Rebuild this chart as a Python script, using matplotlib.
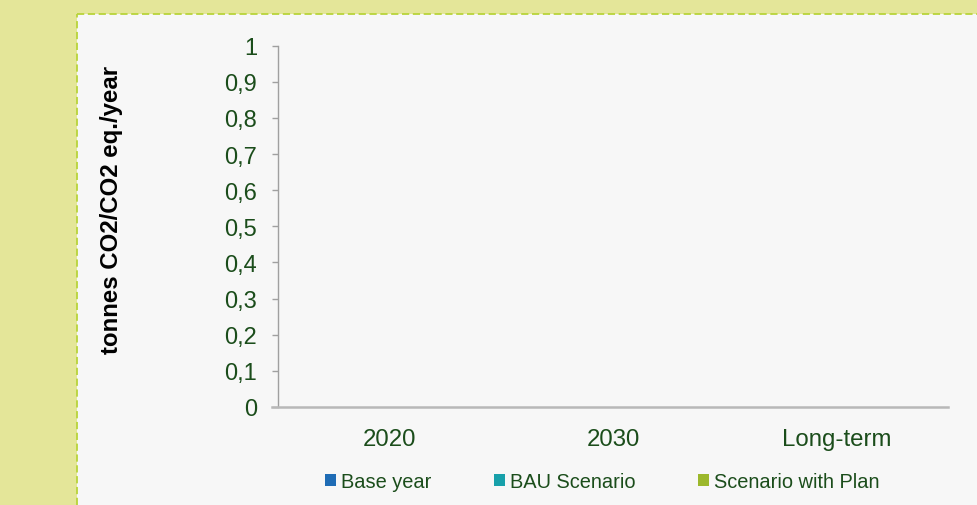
import matplotlib
matplotlib.use("Agg")
import matplotlib.pyplot as plt
from matplotlib.patches import Rectangle
import numpy as np

# ---- data ----
categories = ["2020", "2030", "Long-term"]
series_names = ["Base year", "BAU Scenario", "Scenario with Plan"]
base_year = [0, 0, 0]
bau_scenario = [0, 0, 0]
scenario_with_plan = [0, 0, 0]
y_ticks = [0, 0.1, 0.2, 0.3, 0.4, 0.5, 0.6, 0.7, 0.8, 0.9, 1]
y_tick_labels = ["0", "0,1", "0,2", "0,3", "0,4", "0,5", "0,6", "0,7", "0,8", "0,9", "1"]
y_label = "tonnes CO2/CO2 eq./year"

colors = ["#1F6CB5", "#17A0AA", "#9CB82C"]
text_green = "#1B4D1B"

plt.rcParams["font.family"] = ["Liberation Sans", "DejaVu Sans"]

W, H = 977, 506
fig = plt.figure(figsize=(W / 100, H / 100), dpi=100)
fig.patch.set_facecolor("#E4E699")

# inner panel with dashed border
panel = Rectangle((77 / W, 0), 1 - 77 / W + 0.01, 1 - 15 / H, transform=fig.transFigure,
                  facecolor="#F7F7F7", edgecolor="none", zorder=0)
fig.add_artist(panel)
border_kw = dict(color="#B8D43A", lw=1.3, linestyle=(0, (4, 2)), transform=fig.transFigure, zorder=1)
fig.add_artist(plt.Line2D([77 / W, 77 / W], [0, 1 - 15 / H], **border_kw))
fig.add_artist(plt.Line2D([77 / W, 1], [1 - 15 / H, 1 - 15 / H], **border_kw))

ax_left, ax_right = 278 / W, 948 / W
ax_bottom, ax_top = 1 - 408 / H, 1 - 46.7 / H
ax = fig.add_axes([ax_left, ax_bottom, ax_right - ax_left, ax_top - ax_bottom])
ax.set_facecolor("none")

x = np.arange(len(categories))
width = 0.25
handles = []
for i, (vals, name) in enumerate(zip([base_year, bau_scenario, scenario_with_plan], series_names)):
    b = ax.bar(x + (i - 1) * width, vals, width, color=colors[i], label=name, linewidth=0)
    handles.append(b)

ax.set_xlim(-0.5, len(categories) - 0.5)
ax.set_ylim(0, 1)
ax.set_yticks(y_ticks)
ax.set_yticklabels(y_tick_labels)
ax.set_xticks(x)
ax.set_xticklabels(categories)

for s in ["top", "right"]:
    ax.spines[s].set_visible(False)
ax.spines["left"].set_color("#A0A0A0")
ax.spines["left"].set_linewidth(1.0)
ax.spines["bottom"].set_color("#B8B8B8")
ax.spines["bottom"].set_linewidth(1.8)
ax.spines["bottom"].set_bounds(-0.5 - 6 / 670 * 3, len(categories) - 0.5)

ax.tick_params(axis="y", direction="out", length=4.4, width=1.0, color="#A0A0A0",
               labelsize=17, labelcolor=text_green, pad=10.5)
ax.tick_params(axis="x", length=0, labelsize=17.3, labelcolor=text_green, pad=15)

fig.text(112 / W, 1 - 210 / H, y_label, rotation=90, ha="center", va="center",
         fontsize=17.3, fontweight="bold", color="black")

# legend entries
legend_x = [325, 494, 698]
for h, name, lx in zip(handles, series_names, legend_x):
    leg = fig.legend([h], [name], loc="center left",
                     bbox_to_anchor=(lx / W - 0.0, 1 - 482.5 / H), frameon=False,
                     fontsize=14.4, labelcolor=text_green, handlelength=0.55,
                     handleheight=0.55, handletextpad=0.25, borderpad=0, borderaxespad=0)

fig.savefig("out.png", dpi=100, facecolor=fig.get_facecolor())
